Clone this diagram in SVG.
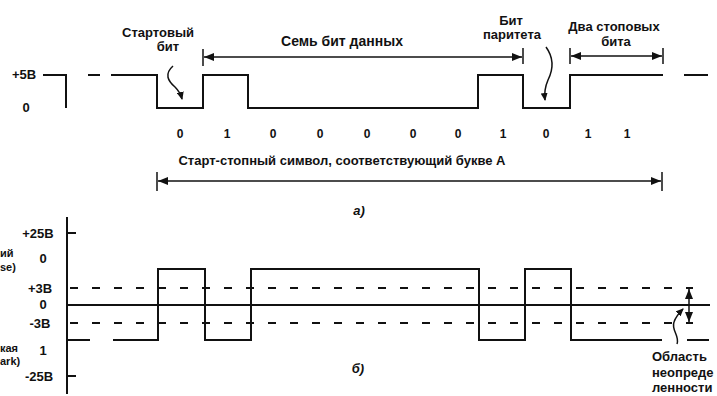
<svg xmlns="http://www.w3.org/2000/svg" width="717" height="396" viewBox="0 0 717 396">
<style>
text{font-family:"Liberation Sans",Arial,sans-serif;font-weight:bold;fill:#111;font-size:13px}
.sm{font-size:12px}
.mid{text-anchor:middle}
.it{font-style:italic}
.sig{fill:none;stroke:#111;stroke-width:2;stroke-linejoin:miter}
.dash{fill:none;stroke:#111;stroke-width:2;stroke-dasharray:8 14}
.arr{fill:none;stroke:#111;stroke-width:1.5}
</style>
<defs>
<marker id="ah" viewBox="0 0 10 8" refX="10" refY="4" markerWidth="10" markerHeight="8" markerUnits="userSpaceOnUse" orient="auto-start-reverse">
<path d="M0,0 L10,4 L0,8 Z" fill="#111"/>
</marker>
<marker id="ahs" viewBox="0 0 8 7" refX="7" refY="3.5" markerWidth="8" markerHeight="7" markerUnits="userSpaceOnUse" orient="auto">
<path d="M0,0 L8,3.5 L0,7 Z" fill="#111"/>
</marker>
</defs>

<!-- ===== a) ===== -->
<g id="top-axis-labels">
<text x="24" y="79" class="mid">+5В</text>
<text x="26" y="112" class="mid">0</text>
</g>
<g id="top-signal">
<polyline class="sig" points="43,75 66,75 66,108"/>
<line class="sig" x1="88" y1="75" x2="100" y2="75"/>
<polyline class="sig" points="111,75 157,75 157,108 203,108 203,75 248,75 248,108 478,108 478,75 523,75 523,108 570,108 570,75 663,75"/>
<line class="sig" x1="684" y1="75" x2="708" y2="75"/>
</g>
<g id="top-labels">
<text x="158" y="37" class="mid">Стартовый</text>
<text x="168" y="51" class="mid">бит</text>
<text x="342" y="46" class="mid" style="font-size:14px">Семь бит данных</text>
<text x="511" y="25" class="mid">Бит</text>
<text x="512" y="39" class="mid">паритета</text>
<text x="614" y="31" class="mid">Два стоповых</text>
<text x="616" y="46" class="mid">бита</text>
</g>
<g id="bit-values">
<text x="180" y="138" class="mid sm">0</text>
<text x="227" y="138" class="mid sm">1</text>
<text x="273" y="138" class="mid sm">0</text>
<text x="320" y="138" class="mid sm">0</text>
<text x="367" y="138" class="mid sm">0</text>
<text x="413" y="138" class="mid sm">0</text>
<text x="458" y="138" class="mid sm">0</text>
<text x="503" y="138" class="mid sm">1</text>
<text x="546" y="138" class="mid sm">0</text>
<text x="588" y="138" class="mid sm">1</text>
<text x="627" y="138" class="mid sm">1</text>
</g>
<g id="symbol-label">
<text x="342" y="165" class="mid">Старт-стопный символ, соответствующий букве А</text>
<text x="359" y="215" class="mid it">а)</text>
</g>

<g id="connectors">
<line class="arr" x1="203" y1="49" x2="203" y2="66"/>
<line class="arr" x1="523" y1="48" x2="523" y2="64"/>
<line class="arr" x1="204" y1="57" x2="522" y2="57" marker-start="url(#ah)" marker-end="url(#ah)"/>
<line class="arr" x1="570" y1="48" x2="570" y2="64"/>
<line class="arr" x1="663" y1="48" x2="663" y2="64"/>
<line class="arr" x1="571" y1="56" x2="662" y2="56" marker-start="url(#ah)" marker-end="url(#ah)"/>
<line class="arr" x1="157" y1="172" x2="157" y2="191"/>
<line class="arr" x1="662" y1="172" x2="662" y2="191"/>
<line class="arr" x1="158" y1="181" x2="661" y2="181" marker-start="url(#ah)" marker-end="url(#ah)"/>
<path class="arr" d="M173,66 C164,74 168,81 175,87 C179,91 181,95 182,99" marker-end="url(#ahs)"/>
<path class="arr" d="M546,47 C554,58 553,70 548,80 C545,87 544,92 545,100" marker-end="url(#ahs)"/>
<line class="arr" x1="689" y1="289" x2="689" y2="322" marker-start="url(#ah)" marker-end="url(#ah)"/>
<path class="arr" d="M677,344 C680,336 671,330 674,322 C676,316 679,313 683,309" marker-end="url(#ahs)"/>
</g>

<!-- ===== б) ===== -->
<g id="bottom-axis">
<line class="sig" x1="67" y1="217" x2="67" y2="394"/>
<line class="sig" x1="67" y1="233" x2="76" y2="233"/>
<line class="sig" x1="67" y1="376" x2="76" y2="376"/>
<line class="sig" x1="67" y1="305" x2="710" y2="305"/>
<line class="dash" x1="70" y1="288" x2="693" y2="288"/>
<line class="dash" x1="70" y1="323" x2="693" y2="323"/>
</g>
<g id="bottom-labels">
<text x="38" y="238" class="mid">+25В</text>
<text x="43" y="263" class="mid">0</text>
<text x="40" y="293" class="mid">+3В</text>
<text x="43" y="309" class="mid">0</text>
<text x="40" y="328" class="mid">-3В</text>
<text x="43" y="355" class="mid">1</text>
<text x="39" y="381" class="mid">-25В</text>
<text x="0" y="257" style="font-size:11px">ий</text>
<text x="0" y="271" style="font-size:11px">se)</text>
<text x="0" y="352" style="font-size:11px">кая</text>
<text x="0" y="365" style="font-size:11px">ark)</text>
<text x="358" y="373" class="mid it">б)</text>
<text x="652" y="361">Область</text>
<text x="652" y="377">неопреде</text>
<text x="652" y="392">ленности</text>
</g>
<g id="bottom-signal">
<line class="sig" x1="67" y1="340" x2="90" y2="340"/>
<polyline class="sig" points="113,340 158,340 158,269 205,269 205,340 251,340 251,269 479,269 479,340 525,340 525,269 571,269 571,340 662,340"/>
<line class="sig" x1="687" y1="340" x2="709" y2="340"/>
</g>
</svg>
